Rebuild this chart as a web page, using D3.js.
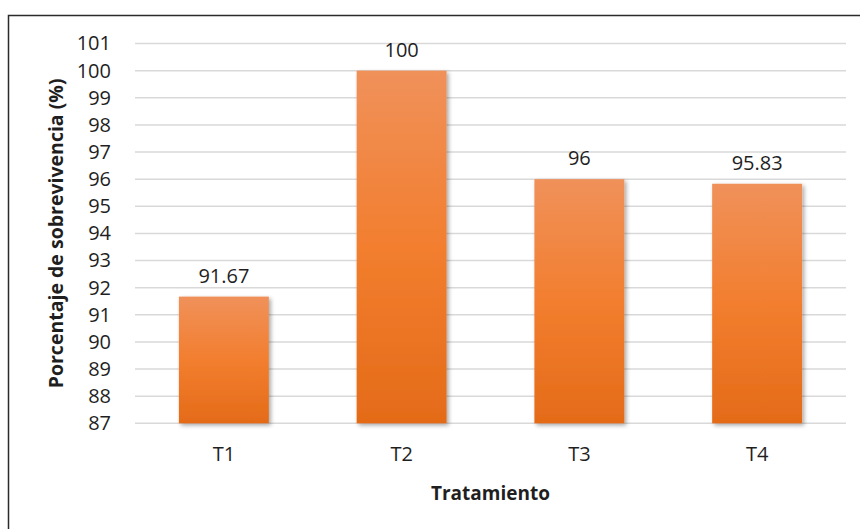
<!DOCTYPE html>
<html>
<head>
<meta charset="utf-8">
<script src="https://cdn.jsdelivr.net/npm/d3@7"></script>
<style>
  html, body { margin: 0; padding: 0; background: #fff; }
  svg { display: block; }
  text { font-family: "Open Sans", "Noto Sans", sans-serif; fill: #1f1f1f; }
</style>
</head>
<body>
<div id="chart"></div>
<script>
// Survival percentage per treatment
const categories = ["T1", "T2", "T3", "T4"];
const values = [91.67, 100, 96, 95.83];
const valueLabels = ["91.67", "100", "96", "95.83"];
const yTicks = d3.range(87, 102);

const width = 860, height = 529;
const margin = { top: 43.5, right: 14, bottom: 105.7, left: 135 };
const plotW = width - margin.left - margin.right;
const plotH = height - margin.top - margin.bottom;

const svg = d3.select("#chart").append("svg")
  .attr("width", width).attr("height", height);

const defs = svg.append("defs");
const grad = defs.append("linearGradient")
  .attr("id", "barFill").attr("x1", 0).attr("y1", 0).attr("x2", 0).attr("y2", 1);
grad.append("stop").attr("offset", "0%").attr("stop-color", "#F0915A");
grad.append("stop").attr("offset", "50%").attr("stop-color", "#F27E2F");
grad.append("stop").attr("offset", "100%").attr("stop-color", "#E46B18");

const shadow = defs.append("filter").attr("id", "barShadow")
  .attr("x", "-10%").attr("y", "-10%").attr("width", "130%").attr("height", "130%");
shadow.append("feDropShadow")
  .attr("dx", 2).attr("dy", 2).attr("stdDeviation", 2)
  .attr("flood-color", "#000").attr("flood-opacity", 0.35);

// outer chart border (runs off the right and bottom edges)
svg.append("rect")
  .attr("x", 8.5).attr("y", 15.5)
  .attr("width", width + 20).attr("height", height + 20)
  .attr("fill", "none").attr("stroke", "#2b2b2b").attr("stroke-width", 1.5);

const g = svg.append("g").attr("transform", `translate(${margin.left},${margin.top})`);

const x = d3.scaleBand().domain(categories).range([0, plotW])
  .paddingInner(0.494).paddingOuter(0.247);
const y = d3.scaleLinear().domain([87, 101]).range([plotH, 0]);

// horizontal gridlines
g.append("g").selectAll("line").data(yTicks).join("line")
  .attr("x1", 0).attr("x2", plotW)
  .attr("y1", d => y(d)).attr("y2", d => y(d))
  .attr("stroke", "#D9D9D9").attr("stroke-width", 1.5);

// y axis labels
const yAxis = g.append("g").call(d3.axisLeft(y).tickValues(yTicks).tickSize(0).tickPadding(24));
yAxis.select(".domain").remove();
yAxis.selectAll("text").style("font-size", "20px").attr("fill", "#1f1f1f");

// x axis labels
const xAxis = g.append("g").attr("transform", `translate(0,${plotH})`)
  .call(d3.axisBottom(x).tickSize(0).tickPadding(24));
xAxis.select(".domain").remove();
xAxis.selectAll("text").style("font-size", "20px").attr("fill", "#1f1f1f");

// bars
g.append("g").selectAll("rect").data(values).join("rect")
  .attr("x", (d, i) => x(categories[i]))
  .attr("y", d => y(d))
  .attr("width", x.bandwidth())
  .attr("height", d => plotH - y(d))
  .attr("fill", "url(#barFill)")
  .attr("filter", "url(#barShadow)");

// value labels
g.append("g").selectAll("text").data(values).join("text")
  .attr("x", (d, i) => x(categories[i]) + x.bandwidth() / 2)
  .attr("y", d => y(d) - 14)
  .attr("text-anchor", "middle")
  .style("font-size", "20px")
  .text((d, i) => valueLabels[i]);

// axis titles
svg.append("text")
  .attr("transform", `translate(63,${margin.top + plotH / 2}) rotate(-90)`)
  .attr("text-anchor", "middle")
  .style("font-size", "19.5px").style("font-weight", "bold")
  .attr("fill", "#000")
  .text("Porcentaje de sobrevivencia (%)");

svg.append("text")
  .attr("x", margin.left + plotW / 2).attr("y", 500)
  .attr("text-anchor", "middle")
  .style("font-size", "19px").style("font-weight", "bold")
  .attr("fill", "#000")
  .text("Tratamiento");
</script>
</body>
</html>
